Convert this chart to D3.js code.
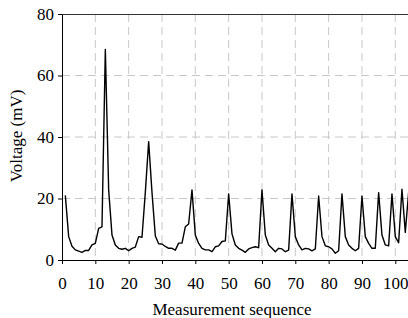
<!DOCTYPE html>
<html>
<head>
<meta charset="utf-8">
<script src="https://cdn.jsdelivr.net/npm/d3@7"></script>
<style>
  body { margin: 0; background: #fff; }
  svg { display: block; }
</style>
</head>
<body>
<svg width="408" height="318"></svg>
<script>
// measurement sequence index, 1..104
const seq = d3.range(1, 105);
const voltage = [
  21, 7.6, 4.5, 3.3, 2.9, 2.5, 3.1, 3.1, 4.9, 5.4,
  10.3, 10.8, 68.5, 22.8, 8.1, 4.9, 3.8, 3.5, 3.8, 3.0,
  3.8, 4.2, 7.6, 7.4, 22, 38.5, 22, 7.8, 5.3, 5.2,
  4.4, 3.8, 3.8, 3.2, 5.5, 5.5, 10.8, 11.7, 22.8, 8.1,
  5.4, 3.8, 3.3, 3.3, 2.7, 4.3, 4.6, 6.0, 6.2, 21.5,
  8.5, 4.9, 3.8, 3.2, 2.5, 3.6, 4.0, 4.3, 4.0, 22.8,
  8.1, 4.9, 3.8, 2.7, 3.8, 3.6, 2.7, 3.2, 21.5, 7.6,
  4.9, 3.3, 3.8, 3.6, 3.0, 3.6, 20.8, 7.6, 4.6, 4.3,
  3.6, 2.2, 3.0, 21.5, 7.6, 4.9, 3.8, 3.0, 3.8, 20.8,
  7.6, 5.4, 3.8, 3.8, 21.9, 8.1, 4.9, 4.6, 21.5, 7.6,
  5.6, 23.0, 9.0, 22
];
const xTicks = d3.range(0, 101, 10);
const yTicks = [0, 20, 40, 60, 80];

const serif = '"Liberation Serif", "Times New Roman", Times, serif';

const svg = d3.select("svg");
const margin = { top: 14, left: 62, bottom: 58 };
const height = 318 - margin.top - margin.bottom;
const width = 104 * 3.333;

const x = d3.scaleLinear().domain([0, 104]).range([0, width]);
const y = d3.scaleLinear().domain([0, 80]).range([height, 0]);

const g = svg.append("g")
  .attr("transform", `translate(${margin.left},${margin.top})`);

// grid
g.append("g").selectAll("line")
  .data(xTicks.filter(d => d > 0))
  .join("line")
  .attr("x1", d => x(d)).attr("x2", d => x(d))
  .attr("y1", 0).attr("y2", height)
  .attr("stroke", "#c8c8c8")
  .attr("stroke-dasharray", "8,5");

g.append("g").selectAll("line")
  .data(yTicks.filter(d => d > 0 && d < 80))
  .join("line")
  .attr("x1", 0).attr("x2", width)
  .attr("y1", d => y(d)).attr("y2", d => y(d))
  .attr("stroke", "#c8c8c8")
  .attr("stroke-dasharray", "8,5");

// top frame
g.append("line")
  .attr("x1", 0).attr("x2", width)
  .attr("y1", 0.5).attr("y2", 0.5)
  .attr("stroke", "#333");

// axes
const xAxis = d3.axisBottom(x).tickValues(xTicks).tickSize(4).tickSizeOuter(0);
const yAxis = d3.axisLeft(y).tickValues(yTicks).tickSize(4).tickSizeOuter(0);

const gX = g.append("g")
  .attr("transform", `translate(0,${height})`)
  .call(xAxis);
const gY = g.append("g").call(yAxis);

[gX, gY].forEach(a => {
  a.attr("font-family", null).attr("font-size", null);
  a.select(".domain").attr("stroke", "#000");
  a.selectAll(".tick line").attr("stroke", "#000");
  a.selectAll(".tick text")
    .style("font-family", serif)
    .style("font-size", "17px")
    .attr("fill", "#000");
});
gX.selectAll(".tick text").attr("y", 29).attr("dy", null);
gY.selectAll(".tick text").attr("x", -8);

// data line
const line = d3.line()
  .x((d, i) => x(seq[i]))
  .y(d => y(d));

g.append("path")
  .datum(voltage)
  .attr("fill", "none")
  .attr("stroke", "#000")
  .attr("stroke-width", 1.4)
  .attr("stroke-linejoin", "round")
  .attr("d", line);

// axis titles
svg.append("text")
  .attr("x", 232)
  .attr("y", 315)
  .attr("text-anchor", "middle")
  .style("font-family", serif)
  .style("font-size", "17px")
  .text("Measurement sequence");

svg.append("text")
  .attr("transform", "translate(22,136) rotate(-90)")
  .attr("text-anchor", "middle")
  .style("font-family", serif)
  .style("font-size", "17px")
  .text("Voltage (mV)");
</script>
</body>
</html>
